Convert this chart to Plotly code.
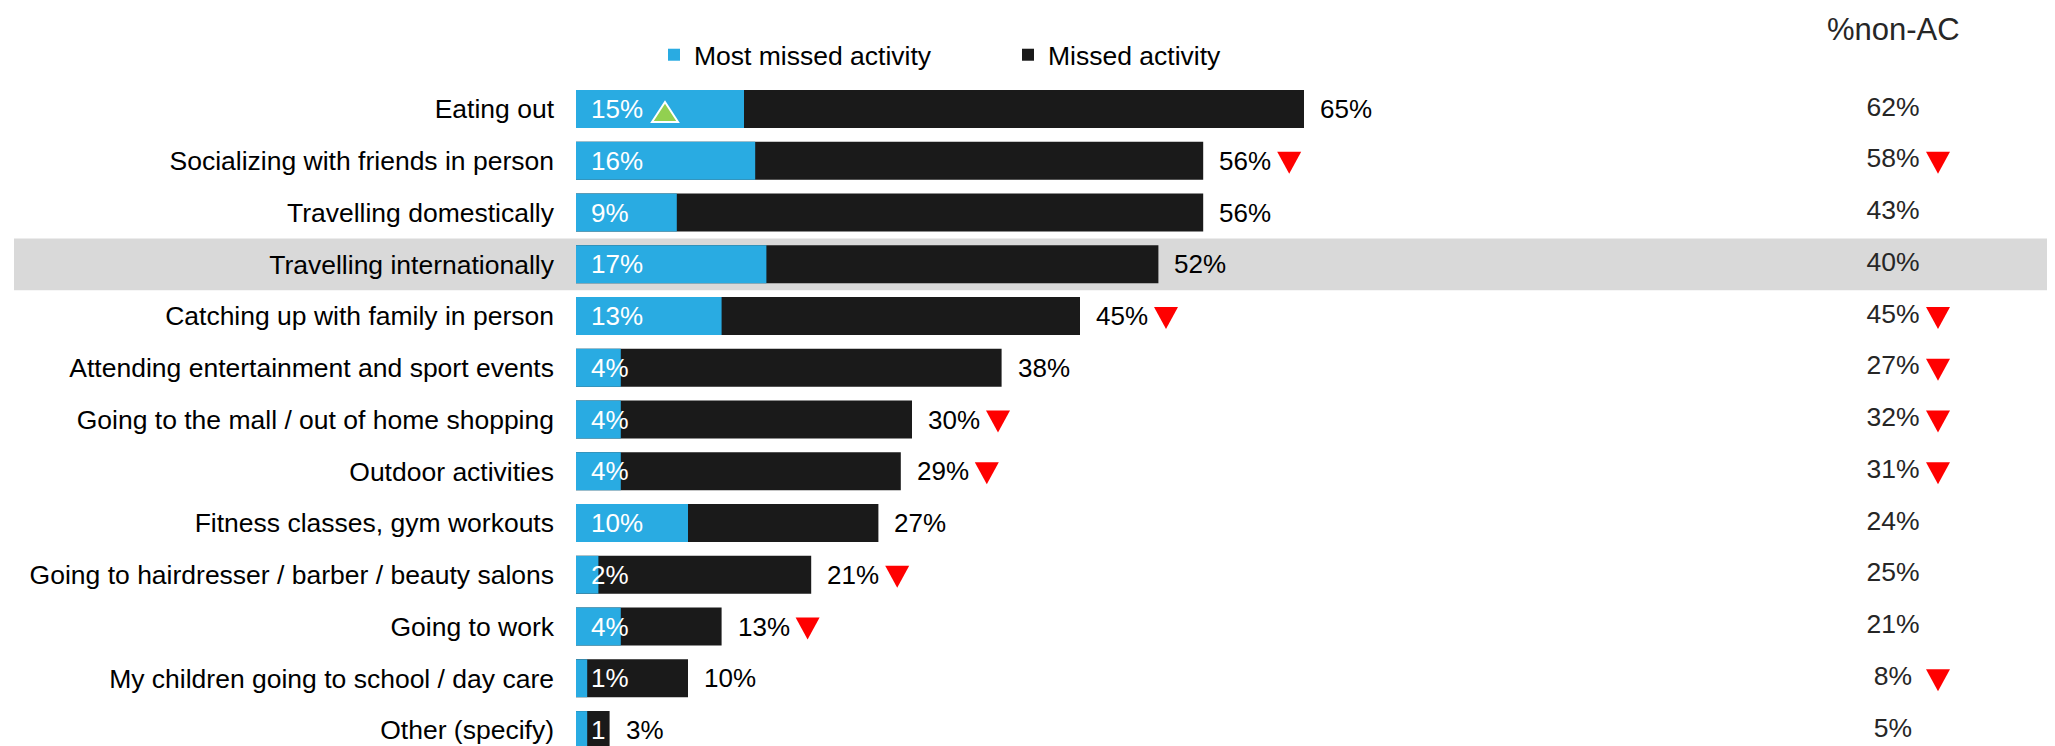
import plotly.graph_objects as go

# ---------------- data ----------------
categories = [
    "Eating out",
    "Socializing with friends in person",
    "Travelling domestically",
    "Travelling internationally",
    "Catching up with family in person",
    "Attending entertainment and sport events",
    "Going to the mall / out of home shopping",
    "Outdoor activities",
    "Fitness classes, gym workouts",
    "Going to hairdresser / barber / beauty salons",
    "Going to work",
    "My children going to school / day care",
    "Other (specify)",
]
most_missed = [15, 16, 9, 17, 13, 4, 4, 4, 10, 2, 4, 1, 1]
missed = [65, 56, 56, 52, 45, 38, 30, 29, 27, 21, 13, 10, 3]
non_ac = [62, 58, 43, 40, 45, 27, 32, 31, 24, 25, 21, 8, 5]
most_missed_labels = ["15%", "16%", "9%", "17%", "13%", "4%", "4%", "4%",
                      "10%", "2%", "4%", "1%", "1"]
missed_down = [False, True, False, False, True, False, True, True, False, True, True, False, False]
most_missed_up = [True] + [False] * 12
non_ac_down = [False, True, False, False, True, True, True, True, False, False, False, True, False]
highlight_row = "Travelling internationally"
non_ac_title = "%non-AC"

# ---------------- layout constants (page has an 8px body margin) ----------------
OFF = 8
W, H = 2055 - OFF, 746 - OFF
ML, MT = 576 - OFF, 80 - OFF
PX = 11.2                       # pixels per percentage point
XMAX = (W - ML) / PX
ROW = 51.75
FIRST_ROW_Y = 109 - OFF
LAST_ROW_Y = 730 - OFF
FONT = "Liberation Sans, Arial, sans-serif"
BLUE = "#29ABE2"
BLACK = "#1A1A1A"
GREY = "#D9D9D9"
TXT2 = "#262626"
RED = "#FF0000"
GREEN = "#92D050"

col_x = (1893 - OFF - ML) / PX
col_tri_x = (1938 - OFF - ML) / PX
PH = H - MT


def tri_down(dx):
    # pixel path relative to anchor (positive y = up), 24 wide x 22 tall
    return f"M {dx-12},9 L {dx+12},9 L {dx},-13 Z"


def tri_up(dx):
    # 26 wide x 20 tall
    return f"M {dx-13},-13 L {dx+13},-13 L {dx},7 Z"


fig = go.Figure()

fig.add_trace(go.Bar(
    y=categories, x=missed, orientation="h", name="Missed activity",
    marker=dict(color=BLACK, line=dict(width=0)), width=0.73,
    legendrank=2, hoverinfo="skip",
))
fig.add_trace(go.Bar(
    y=categories, x=most_missed, orientation="h", name="Most missed activity",
    marker=dict(color=BLUE, line=dict(width=0)), width=0.73,
    legendrank=1, hoverinfo="skip",
))

# %non-AC column
fig.add_trace(go.Scatter(
    x=[col_x] * len(categories), y=categories, mode="text",
    text=[f"{v}%" for v in non_ac], textposition="middle center",
    textfont=dict(family=FONT, size=26.5, color=TXT2),
    showlegend=False, hoverinfo="skip", cliponaxis=False,
))

annotations = []
for c, v, lab in zip(categories, missed, most_missed_labels):
    annotations.append(dict(
        x=v, y=c, xref="x", yref="y", text=f"{v}%", showarrow=False,
        xanchor="left", xshift=14, font=dict(family=FONT, size=26, color="#000000"),
    ))
    annotations.append(dict(
        x=0, y=c, xref="x", yref="y", text=lab, showarrow=False,
        xanchor="left", xshift=13, font=dict(family=FONT, size=26, color="#FFFFFF"),
    ))
annotations.append(dict(
    x=col_x, y=1 + (MT - (29.5 - OFF)) / PH, xref="x", yref="paper",
    text=non_ac_title, showarrow=False, xanchor="center", yanchor="middle",
    font=dict(family=FONT, size=31, color=TXT2),
))

hi = categories.index(highlight_row)
shapes = [dict(
    type="rect", xref="paper", yref="y", layer="below",
    x0=(14 - OFF - ML) / (W - ML), x1=1, y0=hi - 0.5, y1=hi + 0.5,
    fillcolor=GREY, line=dict(width=0),
)]

# significance triangles (anchored to data, sized in pixels)
for i, (v, f_miss, f_up, f_nac) in enumerate(zip(missed, missed_down, most_missed_up, non_ac_down)):
    if f_miss:
        shapes.append(dict(
            type="path", xref="x", yref="y", xsizemode="pixel", ysizemode="pixel",
            xanchor=v, yanchor=i, path=tri_down(86), fillcolor=RED,
            line=dict(width=0), layer="above",
        ))
    if f_up:
        shapes.append(dict(
            type="path", xref="x", yref="y", xsizemode="pixel", ysizemode="pixel",
            xanchor=0, yanchor=i, path=tri_up(89), fillcolor=GREEN,
            line=dict(color="white", width=2), layer="above",
        ))
    if f_nac:
        shapes.append(dict(
            type="path", xref="x", yref="y", xsizemode="pixel", ysizemode="pixel",
            xanchor=col_tri_x, yanchor=i, path=tri_down(0), fillcolor=RED,
            line=dict(width=0), layer="above",
        ))

y_top = -(FIRST_ROW_Y - MT) / ROW
y_bot = (len(categories) - 1) + (H - LAST_ROW_Y) / ROW

fig.update_layout(
    width=W, height=H,
    margin=dict(l=ML, r=0, t=MT, b=0, pad=0),
    barmode="overlay",
    paper_bgcolor="white", plot_bgcolor="rgba(0,0,0,0)",
    font=dict(family=FONT, size=26.5, color="#000000"),
    xaxis=dict(range=[0, XMAX], visible=False, fixedrange=True),
    yaxis=dict(
        type="category", categoryorder="array", categoryarray=categories,
        range=[y_bot, y_top], showgrid=False, zeroline=False, showline=False,
        ticks="", ticklabelstandoff=21,
        tickfont=dict(family=FONT, size=26.5, color="#000000"), fixedrange=True,
    ),
    legend=dict(
        orientation="h", x=(654 - OFF - ML) / (W - ML), xanchor="left",
        y=1 + (MT - (55 - OFF)) / PH, yanchor="middle",
        font=dict(family=FONT, size=26.5, color="#000000"),
        entrywidth=309, entrywidthmode="pixels",
        bgcolor="rgba(0,0,0,0)", borderwidth=0, traceorder="normal",
    ),
    annotations=annotations,
    shapes=shapes,
)

fig.write_html("out.html")
